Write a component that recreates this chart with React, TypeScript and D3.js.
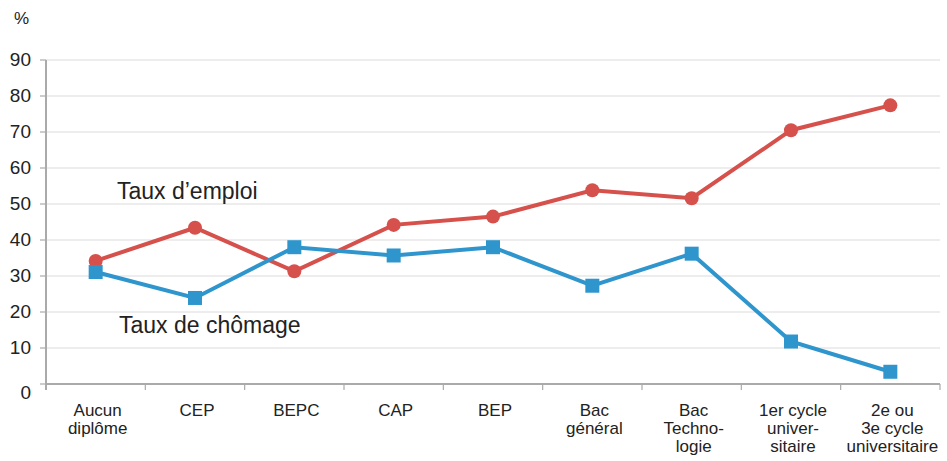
import React, { useEffect, useRef } from "react";
import * as d3 from "d3";

const categories = [
  ["Aucun", "diplôme"],
  ["CEP"],
  ["BEPC"],
  ["CAP"],
  ["BEP"],
  ["Bac", "général"],
  ["Bac", "Techno-", "logie"],
  ["1er cycle", "univer-", "sitaire"],
  ["2e ou", "3e cycle", "universitaire"],
];
const emploi = [34.2, 43.4, 31.3, 44.2, 46.5, 53.8, 51.6, 70.5, 77.4];
const chomage = [31.1, 23.9, 38, 35.7, 38, 27.3, 36.2, 11.8, 3.4];
const yTicks = [0, 10, 20, 30, 40, 50, 60, 70, 80, 90];

const RED = "#d6504c";
const BLUE = "#2f95cd";

export default function App() {
  const ref = useRef<SVGSVGElement>(null);

  useEffect(() => {
    const width = 947;
    const height = 461;
    const margin = { left: 46, right: 7, top: 60, bottom: 77 };
    const svg = d3.select(ref.current);
    svg.selectAll("*").remove();

    const keys = categories.map((c) => c.join(" "));
    const x = d3
      .scaleBand()
      .domain(keys)
      .range([margin.left, width - margin.right]);
    const y = d3
      .scaleLinear()
      .domain([0, 90])
      .range([height - margin.bottom, margin.top]);

    const font = "Helvetica, 'Liberation Sans', Arial, sans-serif";

    // grid
    svg
      .append("g")
      .selectAll("line")
      .data(yTicks.filter((d) => d > 0))
      .join("line")
      .attr("x1", margin.left)
      .attr("x2", width - margin.right)
      .attr("y1", (d) => y(d))
      .attr("y2", (d) => y(d))
      .attr("stroke", "#dcdcdc")
      .attr("stroke-width", 1.2);

    // y ticks + labels
    const yg = svg.append("g");
    yg.selectAll("line")
      .data(yTicks)
      .join("line")
      .attr("x1", margin.left - 6)
      .attr("x2", margin.left)
      .attr("y1", (d) => y(d))
      .attr("y2", (d) => y(d))
      .attr("stroke", "#aaa")
      .attr("stroke-width", 1.2);
    yg.selectAll("text")
      .data(yTicks)
      .join("text")
      .attr("x", 31)
      .attr("y", (d) => y(d) + (d === 0 ? 15 : 6))
      .attr("text-anchor", "end")
      .attr("font-family", font)
      .attr("font-size", 19)
      .attr("fill", "#222")
      .text((d) => d);
    svg
      .append("text")
      .attr("x", 14)
      .attr("y", 24)
      .attr("font-family", font)
      .attr("font-size", 17)
      .attr("fill", "#222")
      .text("%");

    // axes lines
    svg
      .append("line")
      .attr("x1", margin.left)
      .attr("x2", margin.left)
      .attr("y1", y(90))
      .attr("y2", y(0) + 6)
      .attr("stroke", "#aaa")
      .attr("stroke-width", 2);
    svg
      .append("line")
      .attr("x1", margin.left)
      .attr("x2", width - margin.right)
      .attr("y1", y(0))
      .attr("y2", y(0))
      .attr("stroke", "#aaa")
      .attr("stroke-width", 2);
    svg
      .append("g")
      .selectAll("line")
      .data(keys.map((k) => (x(k) as number) + x.bandwidth()).concat([margin.left]))
      .join("line")
      .attr("x1", (d) => d)
      .attr("x2", (d) => d)
      .attr("y1", y(0))
      .attr("y2", y(0) + 6)
      .attr("stroke", "#aaa")
      .attr("stroke-width", 1.2);

    // x labels
    svg
      .append("g")
      .selectAll("text")
      .data(categories)
      .join("text")
      .attr("text-anchor", "middle")
      .attr("font-family", font)
      .attr("font-size", 17)
      .attr("fill", "#222")
      .attr("transform", (d) => `translate(${(x(d.join(" ")) as number) + x.bandwidth() / 2 + 2},0)`)
      .each(function (d) {
        d3.select(this)
          .selectAll("tspan")
          .data(d)
          .join("tspan")
          .attr("x", 0)
          .attr("y", (_, i) => 416 + i * 18)
          .text((t) => t);
      });

    const cx = (i: number) => (x(keys[i]) as number) + x.bandwidth() / 2;
    const line = d3
      .line<number>()
      .x((_, i) => cx(i))
      .y((d) => y(d));

    svg
      .append("path")
      .attr("d", line(emploi))
      .attr("fill", "none")
      .attr("stroke", RED)
      .attr("stroke-width", 4);
    svg
      .append("g")
      .selectAll("circle")
      .data(emploi)
      .join("circle")
      .attr("cx", (_, i) => cx(i))
      .attr("cy", (d) => y(d))
      .attr("r", 7)
      .attr("fill", RED);

    svg
      .append("path")
      .attr("d", line(chomage))
      .attr("fill", "none")
      .attr("stroke", BLUE)
      .attr("stroke-width", 4);
    svg
      .append("g")
      .selectAll("rect")
      .data(chomage)
      .join("rect")
      .attr("x", (_, i) => cx(i) - 7)
      .attr("y", (d) => y(d) - 7)
      .attr("width", 14)
      .attr("height", 14)
      .attr("fill", BLUE);

    // annotations
    svg
      .append("text")
      .attr("x", 117)
      .attr("y", 199)
      .attr("font-family", font)
      .attr("font-size", 23)
      .attr("fill", "#222")
      .text("Taux d’emploi");
    svg
      .append("text")
      .attr("x", 119)
      .attr("y", 333)
      .attr("font-family", font)
      .attr("font-size", 23)
      .attr("fill", "#222")
      .text("Taux de chômage");
  }, []);

  return (
    <svg
      ref={ref}
      width={947}
      height={461}
      style={{ position: "absolute", left: 0, top: 0, background: "#fff" }}
    />
  );
}
